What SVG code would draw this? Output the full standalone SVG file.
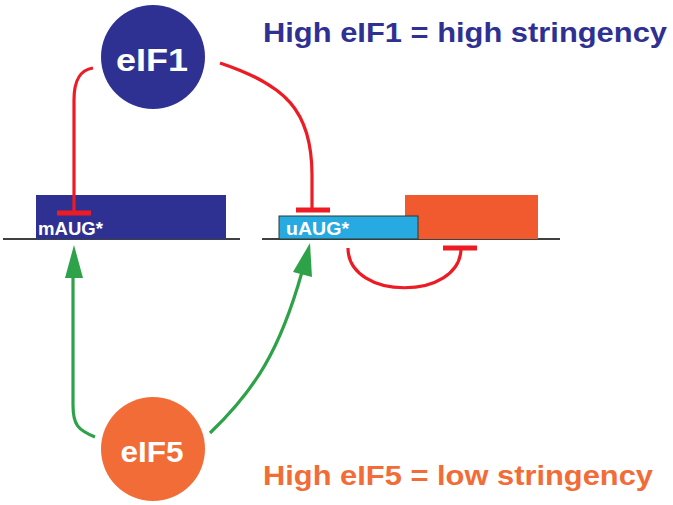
<svg xmlns="http://www.w3.org/2000/svg" width="673" height="505" viewBox="0 0 673 505">
<style>
.inh{fill:none;stroke:#ed1c24;stroke-width:3.2;stroke-linecap:butt}
.bar{stroke:#ed1c24;stroke-width:5}
.act{fill:none;stroke:#2ea248;stroke-width:3.2}
.head{fill:#2ea248}
.node{font-family:"Liberation Sans",Arial,sans-serif;font-weight:bold;fill:#fff;text-anchor:middle}
.lab{font-family:"Liberation Sans",Arial,sans-serif;font-weight:bold;fill:#fff}
.title{font-family:"Liberation Sans",Arial,sans-serif;font-weight:bold}
</style>
<rect width="673" height="505" fill="#fff"/>
<g id="mrna">
<line x1="3" y1="239" x2="240" y2="239" stroke="#000" stroke-width="1.6"/>
<line x1="262" y1="239" x2="560" y2="239" stroke="#000" stroke-width="1.6"/>
</g>
<g id="mORF">
<rect x="36" y="195" width="190" height="44" fill="#2e3192"/>
<text class="lab" x="38" y="235" font-size="17.5" textLength="65" lengthAdjust="spacingAndGlyphs">mAUG*</text>
</g>
<g id="orangeORF">
<rect x="405" y="195" width="133" height="44" fill="#f15a2f"/>
</g>
<g id="uORF">
<rect x="279" y="216" width="139" height="23" fill="#27aae1" stroke="#2b3a2e" stroke-width="1"/>
<text class="lab" x="286" y="235" font-size="17.5" textLength="63" lengthAdjust="spacingAndGlyphs">uAUG*</text>
</g>
<g id="connectors">
<path class="inh" d="M93,68 C80,70 74,80 74,100 L74,211"/>
<line class="bar" x1="57" y1="213" x2="91" y2="213"/>
<path class="inh" d="M220,63 C285,85 312,110 312,175 L312,209"/>
<line class="bar" x1="296" y1="210" x2="330" y2="210"/>
<path class="inh" d="M348,248 C348,301 461,301 461,248"/>
<line class="bar" x1="443" y1="248" x2="477" y2="248"/>
<path class="act" d="M95,437 C78,430 73,425 73,405 L73,272"/>
<polygon class="head" points="74,245 83,278 65,278"/>
<path class="act" d="M210,433 C255,390 280,350 302,272"/>
<polygon class="head" points="310,243 312,277 293,272"/>
</g>
<g id="eIF1">
<circle cx="153" cy="57" r="52" fill="#2e3192"/>
<text class="node" x="152" y="71" font-size="31" textLength="72" lengthAdjust="spacingAndGlyphs">eIF1</text>
</g>
<g id="eIF5">
<circle cx="153" cy="449" r="52" fill="#f26c37"/>
<text class="node" x="152" y="462" font-size="30" textLength="63" lengthAdjust="spacingAndGlyphs">eIF5</text>
</g>
<text class="title" x="263" y="42" font-size="27" fill="#2e3192" textLength="404" lengthAdjust="spacingAndGlyphs">High eIF1 = high stringency</text>
<text class="title" x="263" y="485" font-size="27" fill="#f26c37" textLength="390" lengthAdjust="spacingAndGlyphs">High eIF5 = low stringency</text>
</svg>
